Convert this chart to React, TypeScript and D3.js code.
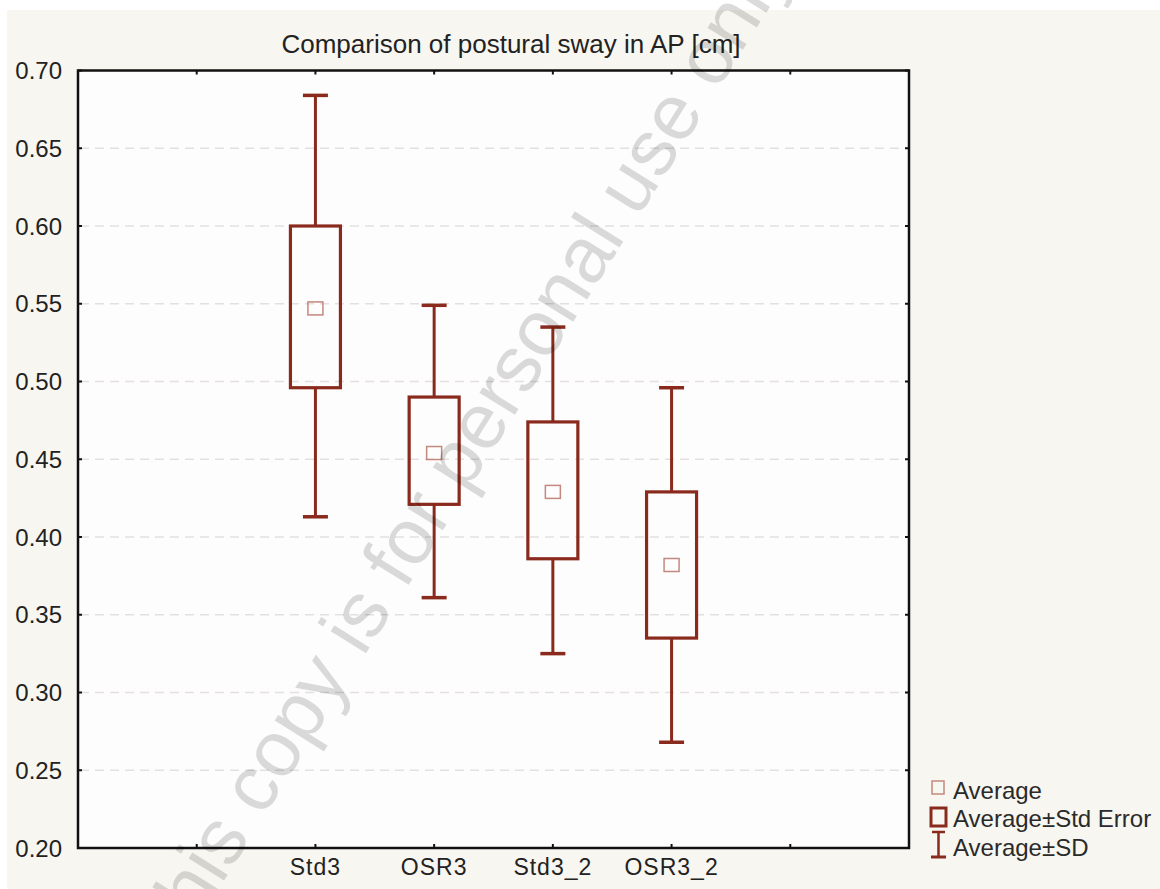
import React from 'react';
import * as d3 from 'd3';

// group statistics (cm)
const categories = ['Std3', 'OSR3', 'Std3_2', 'OSR3_2'];
const means = [0.547, 0.454, 0.429, 0.382];
const seLow = [0.496, 0.421, 0.386, 0.335];
const seHigh = [0.6, 0.49, 0.474, 0.429];
const sdLow = [0.413, 0.361, 0.325, 0.268];
const sdHigh = [0.684, 0.549, 0.535, 0.496];

const yTicks = [0.2, 0.25, 0.3, 0.35, 0.4, 0.45, 0.5, 0.55, 0.6, 0.65, 0.7];
const xTickSlots = [1, 2, 3, 4, 5, 6];
const legendItems = ['Average', 'Average±Std Error', 'Average±SD'];

const W = 1160;
const H = 889;
const plot = { left: 78, right: 909, top: 70.5, bottom: 848 };

const RED = '#8a2a1d';
const MEAN = '#c4887e';
const FONT = '"Liberation Sans", Arial, sans-serif';

const App: React.FC = () => {
  const x = d3.scaleLinear().domain([0, 7]).range([plot.left, plot.right]);
  const y = d3.scaleLinear().domain([0.2, 0.7]).range([plot.bottom, plot.top]);

  const boxW = 50;
  const capW = 25;

  return (
    <svg width={W} height={H} style={{ position: 'absolute', left: 0, top: 0 }}>
      <rect x={0} y={0} width={W} height={H} fill="#ffffff" />
      <rect x={7} y={10} width={W - 7} height={H - 10} fill="#f8f6f0" />

      {/* title */}
      <text x={511} y={53} textAnchor="middle" fontFamily={FONT} fontSize={26} fill="#222">
        Comparison of postural sway in AP [cm]
      </text>

      {/* plot area */}
      <rect x={plot.left} y={plot.top} width={plot.right - plot.left} height={plot.bottom - plot.top} fill="#fdfdfe" />

      {/* dashed grid */}
      {yTicks.slice(1, -1).map(t => (
        <line key={t} x1={plot.left + 2} x2={plot.right - 2} y1={y(t)} y2={y(t)}
          stroke="#e5dfdf" strokeWidth={1.5} strokeDasharray="9,6" />
      ))}

      {/* y ticks and labels */}
      {yTicks.map(t => (
        <g key={'y' + t}>
          <line x1={plot.left} x2={plot.left + 4} y1={y(t)} y2={y(t)} stroke="#111" strokeWidth={2} />
          <line x1={plot.right} x2={plot.right - 4} y1={y(t)} y2={y(t)} stroke="#111" strokeWidth={2} />
          <text x={62} y={y(t)} dy="0.36em" textAnchor="end" fontFamily={FONT} fontSize={24} fill="#222">
            {d3.format('.2f')(t)}
          </text>
        </g>
      ))}

      {/* x ticks */}
      {xTickSlots.map(s => (
        <g key={'x' + s}>
          <line x1={x(s)} x2={x(s)} y1={plot.bottom} y2={plot.bottom - 4} stroke="#111" strokeWidth={2} />
          <line x1={x(s)} x2={x(s)} y1={plot.top} y2={plot.top + 4} stroke="#111" strokeWidth={2} />
        </g>
      ))}

      {/* boxes */}
      {categories.map((c, i) => {
        const cx = x(i + 2);
        return (
          <g key={c}>
            <line x1={cx} x2={cx} y1={y(sdHigh[i])} y2={y(seHigh[i])} stroke={RED} strokeWidth={3} />
            <line x1={cx} x2={cx} y1={y(seLow[i])} y2={y(sdLow[i])} stroke={RED} strokeWidth={3} />
            <line x1={cx - capW / 2} x2={cx + capW / 2} y1={y(sdHigh[i])} y2={y(sdHigh[i])} stroke={RED} strokeWidth={3.5} />
            <line x1={cx - capW / 2} x2={cx + capW / 2} y1={y(sdLow[i])} y2={y(sdLow[i])} stroke={RED} strokeWidth={3.5} />
            <rect x={cx - boxW / 2} y={y(seHigh[i])} width={boxW} height={y(seLow[i]) - y(seHigh[i])}
              fill="none" stroke={RED} strokeWidth={3.2} />
            <rect x={cx - 7.5} y={y(means[i]) - 6.5} width={15} height={13} fill="none" stroke={MEAN} strokeWidth={1.5} />
            <text x={cx} y={875} textAnchor="middle" fontFamily={FONT} fontSize={23} letterSpacing={1} fill="#222">{c}</text>
          </g>
        );
      })}

      {/* frame */}
      <rect x={plot.left} y={plot.top} width={plot.right - plot.left} height={plot.bottom - plot.top}
        fill="none" stroke="#111" strokeWidth={2.5} />

      {/* legend */}
      <g fontFamily={FONT} fontSize={24} fill="#2a2a2a">
        <rect x={932} y={781} width={12} height={13} fill="none" stroke={MEAN} strokeWidth={1.5} />
        <rect x={931} y={808} width={15} height={18} fill="none" stroke={RED} strokeWidth={3} />
        <line x1={938.5} x2={938.5} y1={832} y2={857} stroke={RED} strokeWidth={2.5} />
        <line x1={932} x2={945} y1={832} y2={832} stroke={RED} strokeWidth={2.5} />
        <line x1={931} x2={946} y1={857} y2={857} stroke={RED} strokeWidth={3} />
        {legendItems.map((t, i) => (
          <text key={t} x={953} y={790 + i * 28.5} dy="0.36em">{t}</text>
        ))}
      </g>

      {/* watermark */}
      <text x={483} y={466} textAnchor="middle" fontFamily={FONT} fontSize={79} fill="#000" fillOpacity={0.14}
        transform="rotate(-58 483 466)">
        This copy is for personal use only
      </text>
    </svg>
  );
};

export default App;
